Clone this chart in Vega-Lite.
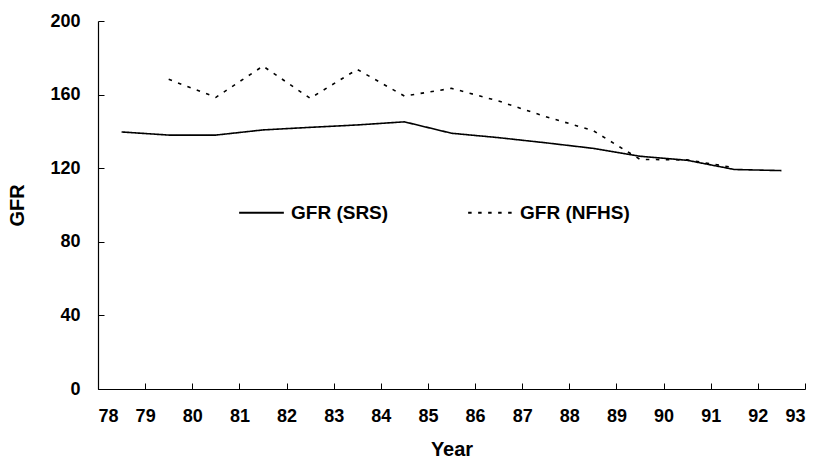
{
  "$schema": "https://vega.github.io/schema/vega-lite/v6.json",
  "autosize": "none",
  "width": 707,
  "height": 368,
  "padding": {"left": 98, "top": 21, "right": 12, "bottom": 71},
  "background": "white",
  "config": {
    "view": {"stroke": null},
    "font": "Liberation Sans",
    "axis": {"grid": false, "domainColor": "#000", "tickColor": "#000", "labelColor": "#000", "titleColor": "#000", "labelFont": "Liberation Sans", "titleFont": "Liberation Sans", "labelFontWeight": "bold", "titleFontWeight": "bold", "labelFontSize": 18, "titleFontSize": 20}
  },
  "data": {
    "values": [
      {"year": 78.5, "gfr": 139.7, "series": "GFR (SRS)"},
      {"year": 79.5, "gfr": 138.0, "series": "GFR (SRS)"},
      {"year": 80.5, "gfr": 138.0, "series": "GFR (SRS)"},
      {"year": 81.5, "gfr": 140.8, "series": "GFR (SRS)"},
      {"year": 82.5, "gfr": 142.2, "series": "GFR (SRS)"},
      {"year": 83.5, "gfr": 143.5, "series": "GFR (SRS)"},
      {"year": 84.5, "gfr": 145.2, "series": "GFR (SRS)"},
      {"year": 85.5, "gfr": 139.0, "series": "GFR (SRS)"},
      {"year": 86.5, "gfr": 136.6, "series": "GFR (SRS)"},
      {"year": 87.5, "gfr": 133.8, "series": "GFR (SRS)"},
      {"year": 88.5, "gfr": 130.8, "series": "GFR (SRS)"},
      {"year": 89.5, "gfr": 126.5, "series": "GFR (SRS)"},
      {"year": 90.5, "gfr": 124.3, "series": "GFR (SRS)"},
      {"year": 91.5, "gfr": 119.3, "series": "GFR (SRS)"},
      {"year": 92.5, "gfr": 118.7, "series": "GFR (SRS)"},
      {"year": 79.5, "gfr": 168.3, "series": "GFR (NFHS)"},
      {"year": 80.5, "gfr": 158.5, "series": "GFR (NFHS)"},
      {"year": 81.5, "gfr": 175.5, "series": "GFR (NFHS)"},
      {"year": 82.5, "gfr": 158.0, "series": "GFR (NFHS)"},
      {"year": 83.5, "gfr": 173.7, "series": "GFR (NFHS)"},
      {"year": 84.5, "gfr": 159.2, "series": "GFR (NFHS)"},
      {"year": 85.5, "gfr": 163.4, "series": "GFR (NFHS)"},
      {"year": 86.5, "gfr": 156.5, "series": "GFR (NFHS)"},
      {"year": 87.5, "gfr": 148.0, "series": "GFR (NFHS)"},
      {"year": 88.5, "gfr": 140.5, "series": "GFR (NFHS)"},
      {"year": 89.5, "gfr": 124.8, "series": "GFR (NFHS)"},
      {"year": 90.5, "gfr": 124.5, "series": "GFR (NFHS)"},
      {"year": 91.5, "gfr": 120.3, "series": "GFR (NFHS)"}
    ]
  },
  "mark": {"type": "line", "color": "#000", "strokeWidth": 1.6},
  "encoding": {
    "x": {
      "field": "year", "type": "quantitative", "title": "Year",
      "scale": {"domain": [78, 93], "nice": false, "zero": false},
      "axis": {"values": [78,79,80,81,82,83,84,85,86,87,88,89,90,91,92,93], "tickSize": -6, "labelPadding": 24, "titlePadding": 14, "domainWidth": 1.2}
    },
    "y": {
      "field": "gfr", "type": "quantitative", "title": "GFR",
      "scale": {"domain": [0, 200], "nice": false},
      "axis": {"values": [0, 40, 80, 120, 160, 200], "tickSize": -6, "labelPadding": 24, "titlePadding": 22, "domainWidth": 1.2}
    },
    "strokeDash": {
      "field": "series", "type": "nominal",
      "scale": {"domain": ["GFR (SRS)", "GFR (NFHS)"], "range": [[1, 0], [3.5, 6.5]]},
      "legend": {
        "title": null, "orient": "none", "direction": "horizontal",
        "legendX": 140, "legendY": 168,
        "symbolType": "stroke", "symbolSize": 2000, "symbolStrokeColor": "#000", "symbolStrokeWidth": 1.8,
        "labelFont": "Liberation Sans", "labelFontWeight": "bold", "labelFontSize": 19, "labelColor": "#000",
        "columnPadding": 75, "labelOffset": 6
      }
    }
  }
}
